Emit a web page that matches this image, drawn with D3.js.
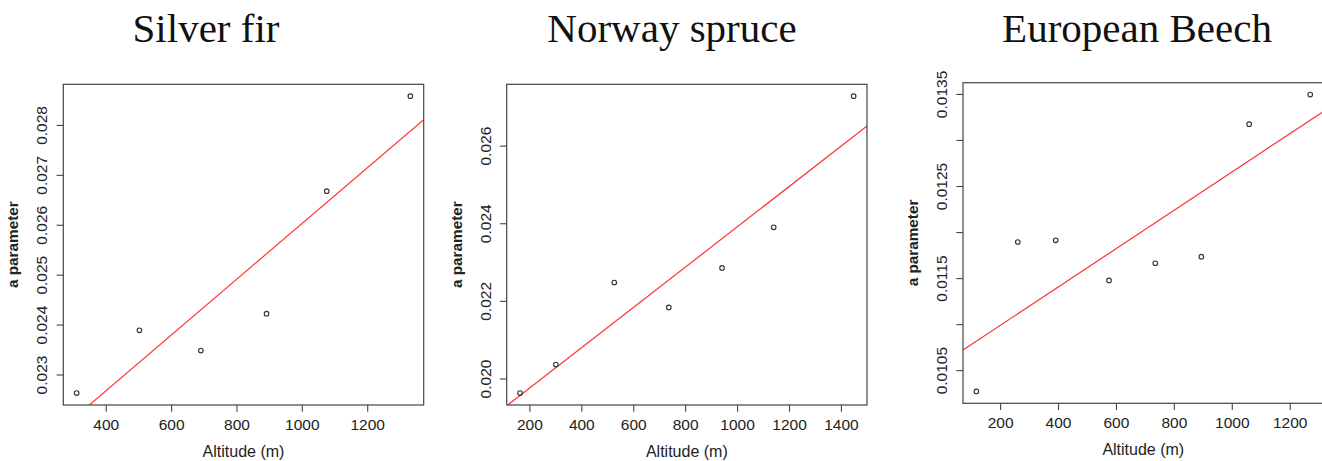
<!DOCTYPE html>
<html>
<head>
<meta charset="utf-8">
<script src="https://cdn.jsdelivr.net/npm/d3@7"></script>
<style>
  html, body { margin: 0; padding: 0; background: #ffffff; }
  svg { display: block; }
</style>
</head>
<body>
<svg id="chart" width="1322" height="461"></svg>
<script>
// ---- Data ----
const titles = ["Silver fir", "Norway spruce", "European Beech"];

const firAltitude = [311, 503, 691, 892, 1076, 1332];
const firA        = [0.022627, 0.023885, 0.023479, 0.024218, 0.026673, 0.028576];

const spruceAltitude = [164, 302, 527, 737, 942, 1141, 1449];
const spruceA        = [0.019623, 0.020359, 0.022473, 0.021831, 0.022850, 0.023894, 0.027274];

const beechAltitude = [118, 261, 392, 576, 736, 895, 1060, 1271];
const beechA        = [0.010269, 0.011892, 0.011910, 0.011474, 0.011661, 0.011733, 0.013172, 0.013493];

const firXTicks    = [400, 600, 800, 1000, 1200];
const firYTicks    = [0.023, 0.024, 0.025, 0.026, 0.027, 0.028];
const spruceXTicks = [200, 400, 600, 800, 1000, 1200, 1400];
const spruceYTicks = [0.020, 0.022, 0.024, 0.026];
const beechXTicks  = [200, 400, 600, 800, 1000, 1200];
const beechYTicks  = [0.0105, 0.0110, 0.0115, 0.0120, 0.0125, 0.0130, 0.0135];
const beechYLabels = [0.0105, 0.0115, 0.0125, 0.0135];

const xTitle = "Altitude (m)";
const yTitle = "a parameter";

// ---- Panels ----
const panels = [
  { title: titles[0], xs: firAltitude, ys: firA, xt: firXTicks, yt: firYTicks, yl: firYTicks, fmt: d3.format(".3f"),
    box: { l: 63.3, r: 423.7, t: 84.3, b: 405 }, titleX: 206 },
  { title: titles[1], xs: spruceAltitude, ys: spruceA, xt: spruceXTicks, yt: spruceYTicks, yl: spruceYTicks, fmt: d3.format(".3f"),
    box: { l: 506.7, r: 867, t: 84.3, b: 405 }, titleX: 672 },
  { title: titles[2], xs: beechAltitude, ys: beechA, xt: beechXTicks, yt: beechYTicks, yl: beechYLabels, fmt: d3.format(".4f"),
    box: { l: 963, r: 1323.6, t: 82.7, b: 403.3 }, titleX: 1137 }
];

const svg = d3.select("#chart");
const sans = "'Liberation Sans', Arial, Helvetica, sans-serif";
const textCol = "#222";
const axisCol = "#444";

function padded(ext) {
  const p = (ext[1] - ext[0]) * 0.04;
  return [ext[0] - p, ext[1] + p];
}

function linreg(xs, ys) {
  const mx = d3.mean(xs), my = d3.mean(ys);
  let sxy = 0, sxx = 0;
  xs.forEach((x, i) => { sxy += (x - mx) * (ys[i] - my); sxx += (x - mx) * (x - mx); });
  const b = sxy / sxx;
  return { a: my - b * mx, b };
}

panels.forEach((p, idx) => {
  const B = p.box;
  const x = d3.scaleLinear().domain(padded(d3.extent(p.xs))).range([B.l, B.r]);
  const y = d3.scaleLinear().domain(padded(d3.extent(p.ys))).range([B.b, B.t]);

  const g = svg.append("g");

  // title
  g.append("text")
    .attr("x", p.titleX).attr("y", 42.3)
    .attr("text-anchor", "middle")
    .style("font-family", "'Liberation Serif', 'Times New Roman', serif")
    .style("font-size", "41px")
    .style("fill", "#111")
    .text(p.title);

  // clip for plot region
  const clipId = "clip" + idx;
  svg.append("clipPath").attr("id", clipId)
    .append("rect").attr("x", B.l).attr("y", B.t).attr("width", B.r - B.l).attr("height", B.b - B.t);

  // regression line
  const fit = linreg(p.xs, p.ys);
  const xd = x.domain();
  g.append("line")
    .attr("clip-path", `url(#${clipId})`)
    .attr("x1", x(xd[0])).attr("y1", y(fit.a + fit.b * xd[0]))
    .attr("x2", x(xd[1])).attr("y2", y(fit.a + fit.b * xd[1]))
    .attr("stroke", "#ff3333").attr("stroke-width", 1.2);

  // points
  g.selectAll("circle.pt").data(p.xs.map((v, i) => [v, p.ys[i]]))
    .enter().append("circle")
    .attr("class", "pt")
    .attr("cx", d => x(d[0])).attr("cy", d => y(d[1]))
    .attr("r", 2.3)
    .attr("fill", "none").attr("stroke", "#333").attr("stroke-width", 1.1);

  // box
  g.append("rect")
    .attr("x", B.l).attr("y", B.t).attr("width", B.r - B.l).attr("height", B.b - B.t)
    .attr("fill", "none").attr("stroke", axisCol).attr("stroke-width", 1.2);

  // x axis
  const xAxis = d3.axisBottom(x).tickValues(p.xt).tickSize(6.7).tickPadding(3).tickFormat(d3.format("d"));
  const xg = g.append("g").attr("transform", `translate(0,${B.b})`).call(xAxis);
  xg.select(".domain").remove();
  xg.selectAll(".tick line").attr("stroke", axisCol).attr("stroke-width", 1.1);
  xg.selectAll(".tick text")
    .attr("y", 25).attr("dy", null)
    .style("font-family", sans).style("font-size", "15.5px").style("fill", textCol);

  // y axis ticks
  const yAxis = d3.axisLeft(y).tickValues(p.yt).tickSize(6.7)
    .tickFormat(d => p.yl.some(v => Math.abs(v - d) < 1e-9) ? p.fmt(d) : "");
  const yg = g.append("g").attr("transform", `translate(${B.l},0)`).call(yAxis);
  yg.select(".domain").remove();
  yg.selectAll(".tick line").attr("stroke", axisCol).attr("stroke-width", 1.1);
  yg.selectAll(".tick text")
    .attr("x", null).attr("dy", null)
    .attr("text-anchor", "middle")
    .attr("transform", "translate(-16,0) rotate(-90)")
    .style("font-family", sans).style("font-size", "15.5px").style("fill", textCol);

  // axis titles
  g.append("text")
    .attr("x", (B.l + B.r) / 2).attr("y", B.b + 52)
    .attr("text-anchor", "middle")
    .style("font-family", sans).style("font-size", "16px").style("fill", textCol)
    .text(xTitle);

  g.append("text")
    .attr("transform", `translate(${B.l - 45},${(B.t + B.b) / 2}) rotate(-90)`)
    .attr("text-anchor", "middle")
    .style("font-family", sans).style("font-size", "15.3px").style("font-weight", "bold").style("fill", textCol)
    .text(yTitle);
});
</script>
</body>
</html>
